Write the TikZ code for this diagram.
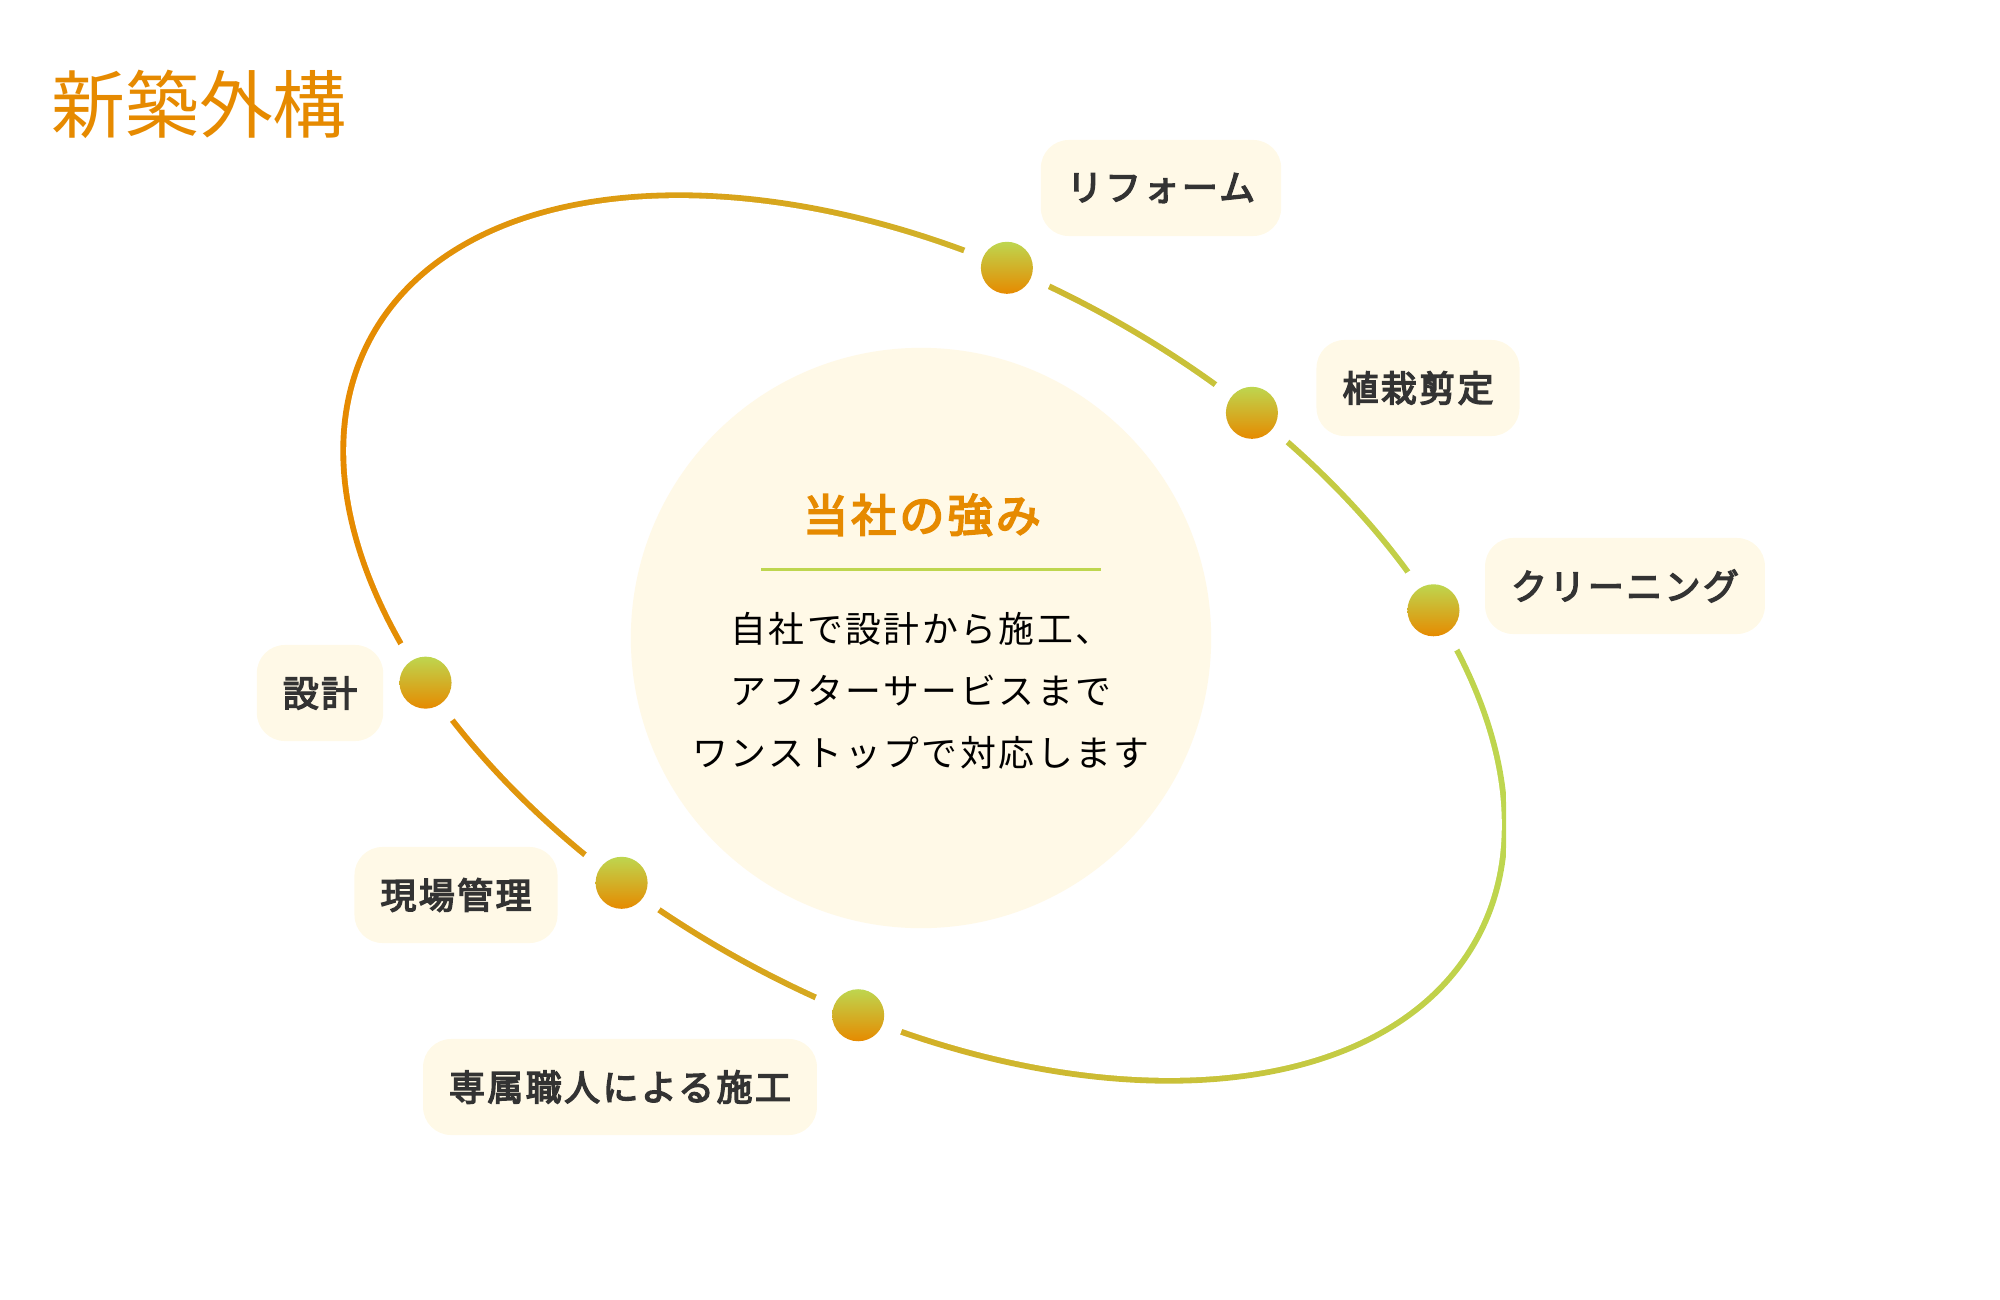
\documentclass[tikz,border=0pt]{standalone}
\usepackage{fontspec}
\setmainfont{Noto Sans CJK JP}
\newfontfamily\jp[LetterSpace=7]{Noto Sans CJK JP}
\newfontfamily\jpmid[LetterSpace=7, FakeBold=4]{Noto Sans CJK JP}
\usetikzlibrary{calc}

\definecolor{orng}{RGB}{230,138,0}
\definecolor{lgrn}{RGB}{190,214,79}
\definecolor{cream}{RGB}{255,249,231}
\definecolor{ink}{RGB}{51,51,51}

\tikzset{
  tag/.style={fill=cream, rounded corners=2.8mm, minimum height=9.6mm, inner xsep=2.6mm, inner ysep=0pt,
    text=ink, font=\jpmid\fontsize{10.2}{12}\selectfont},
  ball/.style={top color=lgrn, bottom color=orng},
}

\begin{document}
\begin{tikzpicture}[x=0.01cm, y=-0.01cm]
\useasboundingbox (0,0) rectangle (2000,1300);

% orbit: shaded ring
\begin{scope}
\clip[rotate around={-28.5:(924,638)}] (924,638) ellipse [x radius=6.32cm, y radius=3.73cm];
\shade[left color=orng, right color=lgrn] (339,150) rectangle (1506,1130);
\end{scope}
\fill[white, rotate around={-28.5:(924,638)}] (924,638) ellipse [x radius=6.26cm, y radius=3.67cm];

% points on the orbit
\begin{scope}[shift={(924,638)}, rotate=-28.5]
\foreach \n/\t in {1/260.5, 2/286.7, 3/313.7, 4/131.5, 5/103.7, 6/78.8} {
  \coordinate (p\n) at ({629*cos(\t)}, {370*sin(\t)});
}
\end{scope}

\foreach \n in {1,...,6} {
\fill[white] (p\n) circle [radius=4.6mm];
\shade[ball] (p\n) circle [radius=2.6mm];
}

% title
\node[text=orng, font=\fontsize{21}{24}\selectfont] (title) at (199,104) {新築外構};

% centre
\node[circle, fill=cream, minimum size=58mm, inner sep=0pt] (core) at (921,638) {};
\node[text=orng, font=\jpmid\fontsize{12.8}{14}\selectfont] (head) at (922,515) {当社の強み};
\draw[lgrn, line width=0.3mm] (761,569) -- (1101,569);
\node[text=black, align=center, font=\jp\fontsize{10.2}{17.6}\selectfont] (body) at (921,691)
  {自社で設計から施工、\\アフターサービスまで\\ワンストップで対応します};

% labels
\node[tag] (t1) at (1161,188) {リフォーム};
\node[tag] (t2) at (1418,388) {植栽剪定};
\node[tag] (t3) at (1625,586) {クリーニング};
\node[tag] (t4) at (320,693) {設計};
\node[tag] (t5) at (456,895) {現場管理};
\node[tag] (t6) at (620,1087) {専属職人による施工};
\end{tikzpicture}
\end{document}
